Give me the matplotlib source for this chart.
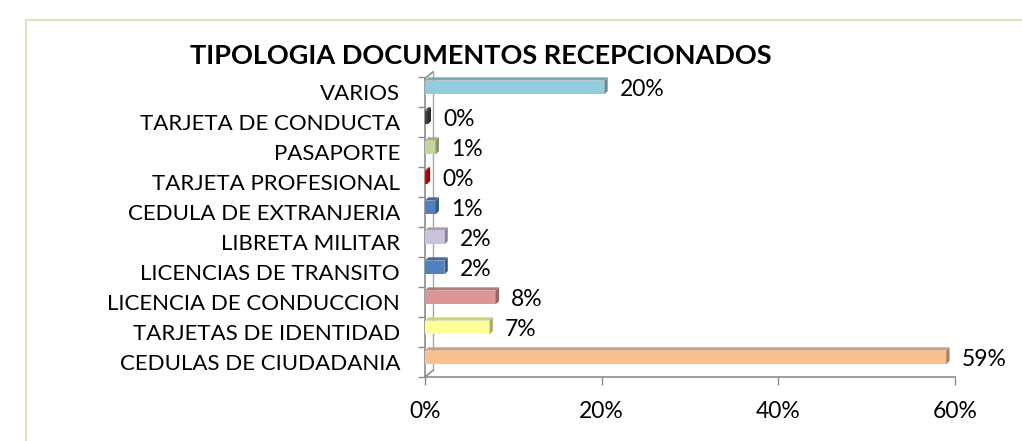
import matplotlib
matplotlib.use("Agg")
import matplotlib.pyplot as plt
from matplotlib.patches import Polygon, Rectangle
from matplotlib.lines import Line2D
from matplotlib.colors import to_rgb

plt.rcParams['font.family'] = ['Lato', 'DejaVu Sans']

categories = [
    "CEDULAS DE CIUDADANIA",
    "TARJETAS DE IDENTIDAD",
    "LICENCIA DE CONDUCCION",
    "LICENCIAS DE TRANSITO",
    "LIBRETA MILITAR",
    "CEDULA DE EXTRANJERIA",
    "TARJETA PROFESIONAL",
    "PASAPORTE",
    "TARJETA DE CONDUCTA",
    "VARIOS",
]
values = [59.0, 7.3, 8.0, 2.2, 2.2, 1.2, 0.2, 1.2, 0.3, 20.3]
colors = ["#fac090", "#ffff99", "#d99694", "#4f81bd", "#ccc1da",
          "#4f81bd", "#e00000", "#c3d69b", "#404040", "#93cddd"]
xticks = [0, 20, 40, 60]
title = "TIPOLOGIA DOCUMENTOS RECEPCIONADOS"

W, H = 1022, 441
fig = plt.figure(figsize=(W / 100, H / 100), dpi=100)
fig.patch.set_facecolor("white")

# outer chart frame
fig.patches.append(Rectangle((26 / W, -0.1), 1.2, (H - 20) / H + 0.1,
                             transform=fig.transFigure, fill=False,
                             edgecolor="#d7e4bd", linewidth=1.5))

x0, x60 = 425, 955
ytop, ybot = 71, 377
ax = fig.add_axes([x0 / W, 1 - ybot / H, (x60 - x0) / W, (ybot - ytop) / H])
ax.set_xlim(0, 60)
ax.set_ylim(-0.5, 9.7)

def shade(c, f):
    r, g, b = to_rgb(c)
    return (r * f, g * f, b * f)

# bars sit on the back plane of the 3D box, slightly above their labels
back = 0.18
d, dy = 0.38, 0.11
lo, hi = -0.26, 0.20
for i, (v, c) in enumerate(zip(values, colors)):
    y = i + back
    # front face
    ax.add_patch(Polygon([(0, y + lo), (v, y + lo), (v, y + hi), (0, y + hi)],
                         closed=True, facecolor=c, edgecolor="none", zorder=3))
    # top face
    ax.add_patch(Polygon([(0, y + hi), (v, y + hi), (v + d, y + hi + dy), (d, y + hi + dy)],
                         closed=True, facecolor=shade(c, 0.82), edgecolor="none", zorder=3))
    # end face
    ax.add_patch(Polygon([(v, y + lo), (v + d, y + lo + dy), (v + d, y + hi + dy), (v, y + hi)],
                         closed=True, facecolor=shade(c, 0.68), edgecolor="none", zorder=3))
    ax.annotate(f"{v:.0f}%", xy=(v + d, i + 0.1), xytext=(12, 0), textcoords="offset pixels",
                ha="left", va="center", fontsize=16.5, color="black")

for s in ["top", "right"]:
    ax.spines[s].set_visible(False)
ax.spines["left"].set_color("#8c8c8c")
ax.spines["bottom"].set_color("#8c8c8c")
ax.spines["left"].set_linewidth(1.2)
ax.spines["bottom"].set_linewidth(1.2)
ax.spines["left"].set_bounds(-0.5, 9.45)

ax.set_yticks(range(len(categories)))
ax.set_yticklabels(categories, fontsize=16)
ax.tick_params(axis="y", length=0, pad=18)
ax.set_yticks([k + 0.5 for k in range(-1, len(categories))], minor=True)
ax.tick_params(axis="y", which="minor", length=5, color="#8c8c8c", width=1)

ax.set_xticks(xticks)
ax.set_xticklabels([f"{t}%" for t in xticks], fontsize=16.5)
ax.tick_params(axis="x", length=6, color="#8c8c8c", width=1, pad=11)

# side wall edges of the 3D box
wx, wy = 0.9, 0.22
ax.add_line(Line2D([0, wx], [9.45, 9.45 + wy], color="#8c8c8c", lw=1.2,
                   clip_on=False))
ax.add_line(Line2D([wx, wx], [9.45 + wy, -0.5 + wy], color="#a6a6a6", lw=1.0,
                   clip_on=False, zorder=1))
ax.add_line(Line2D([0, wx], [-0.5, -0.5 + wy], color="#8c8c8c", lw=1.2,
                   clip_on=False))

fig.text(481 / W, 1 - 56 / H, title, ha="center", va="center",
         fontsize=19.5, fontweight="bold")

fig.savefig("out.png", dpi=100, facecolor="white")
